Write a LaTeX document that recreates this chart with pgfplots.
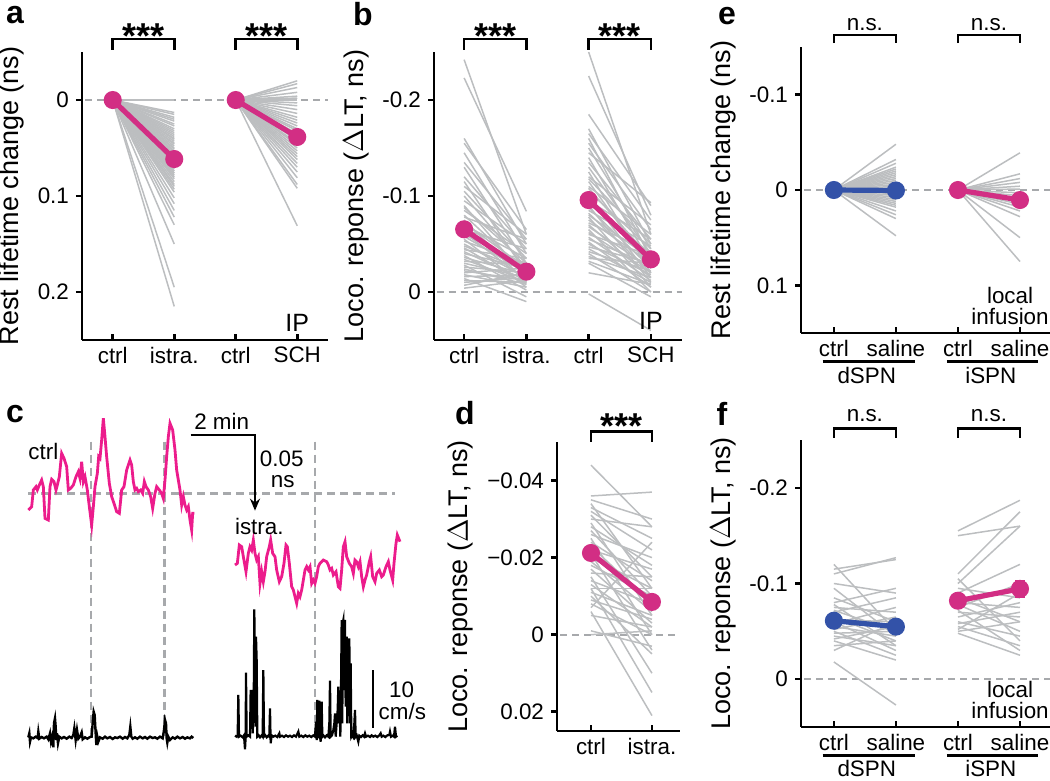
\documentclass[border=0pt]{standalone}
\usepackage{fontspec}
\setmainfont{Liberation Sans}
\usepackage{pgfplots}
\pgfplotsset{compat=1.18}
\usetikzlibrary{arrows.meta}
\definecolor{grayl}{HTML}{BCBEC0}
\definecolor{dashg}{HTML}{A7A9AC}
\definecolor{pinkm}{HTML}{D22E84}
\definecolor{pinkt}{HTML}{EC1C8C}
\definecolor{bluem}{HTML}{3352A8}
\newcommand{\tickfont}{\fontsize{11.2}{12.5}\selectfont}
\newcommand{\labfont}{\fontsize{13.5}{16}\selectfont}
\newcommand{\starfont}{\fontsize{18}{18}\selectfont\bfseries}
\newcommand{\panfont}{\fontsize{16}{16}\selectfont\bfseries}
\tikzset{
  zl/.style={dashg, line width=1pt, dash pattern=on 3.5pt off 2.5pt},
  br/.style={line width=1.3pt, black},
}
\pgfplotsset{
  pan/.style={
    scale only axis, clip=false, anchor=south west,
    axis x line*=bottom, axis y line*=left,
    axis line style={line width=1.3pt, black},
    every tick/.style={line width=1.3pt, black},
    xtick align=inside, ytick align=outside,
    major tick length=3pt,
    y dir=reverse, scaled y ticks=false,
    tick label style={font=\tickfont},
    label style={font=\labfont},
    xtick={1,2,3,4},
  },
  gl/.style={grayl, line width=0.75pt, no markers},
  ml/.style={line width=2.6pt, mark=*, mark size=3.2pt, mark options={solid}},
}
\begin{document}
\begin{tikzpicture}
\useasboundingbox (0,0) rectangle (525pt,-390.5pt);
% ---------------- panel a
\begin{axis}[pan, at={(41pt,-170pt)}, width=123pt, height=144pt,
  xmin=0.5, xmax=4.5, ymin=-0.05, ymax=0.25,
  xticklabels={ctrl,istra.,ctrl,SCH},
  ytick={0,0.1,0.2}, yticklabels={0,0.1,0.2},
  ylabel={Rest lifetime change (ns)}]
\addplot[zl] coordinates {(0.55,0) (4.5,0)};
\addplot[gl, quiver={u=1, v=\thisrow{post}}] table[x expr=1, y expr=0, row sep=\\] {
post\\ 0\\ 0\\ 0.013\\ 0.015\\ 0.018\\ 0.02\\ 0.022\\ 0.025\\ 0.027\\ 0.03\\ 0.032\\ 0.034\\ 0.036\\ 0.038\\ 0.04\\ 0.041\\ 0.043\\ 0.045\\ 0.046\\ 0.048\\ 0.05\\ 0.051\\ 0.053\\ 0.054\\ 0.056\\ 0.058\\ 0.06\\ 0.062\\ 0.064\\ 0.066\\ 0.068\\ 0.07\\ 0.072\\ 0.074\\ 0.076\\ 0.078\\ 0.08\\ 0.082\\ 0.085\\ 0.088\\ 0.09\\ 0.093\\ 0.096\\ 0.102\\ 0.108\\ 0.115\\ 0.122\\ 0.13\\ 0.15\\ 0.195\\ 0.215\\
};
\addplot[gl, quiver={u=1, v=\thisrow{post}}] table[x expr=3, y expr=0, row sep=\\] {
post\\ -0.02\\ -0.017\\ -0.013\\ -0.008\\ -0.004\\ -0.002\\ 0\\ 0.003\\ 0.006\\ 0.01\\ 0.014\\ 0.018\\ 0.021\\ 0.024\\ 0.027\\ 0.03\\ 0.032\\ 0.035\\ 0.037\\ 0.04\\ 0.042\\ 0.045\\ 0.047\\ 0.05\\ 0.053\\ 0.056\\ 0.059\\ 0.062\\ 0.066\\ 0.07\\ 0.075\\ 0.081\\ 0.088\\ 0.092\\ 0.131\\
};
\addplot[pinkm, ml] coordinates {(1,0) (2,0.0615)};
\addplot[pinkm, ml] coordinates {(3,0) (4,0.0385)};
\draw[br] (axis cs:1,-0.0521) -- (axis cs:1,-0.0635) -- (axis cs:2,-0.0635) -- (axis cs:2,-0.0521);
\draw[br] (axis cs:3,-0.0521) -- (axis cs:3,-0.0635) -- (axis cs:4,-0.0635) -- (axis cs:4,-0.0521);
\node[font=\starfont, anchor=north, inner sep=0pt] at (axis cs:1.5,-0.0802) {***};
\node[font=\starfont, anchor=north, inner sep=0pt] at (axis cs:3.5,-0.0802) {***};
\node[font=\fontsize{12.5}{14}\selectfont] at (axis cs:4,0.232) {IP};
\end{axis}
% ---------------- panel b
\begin{axis}[pan, at={(217pt,-170pt)}, width=124pt, height=144pt,
  xmin=0.516, xmax=4.5, ymin=-0.25, ymax=0.05,
  xticklabels={ctrl,istra.,ctrl,SCH},
  ytick={-0.2,-0.1,0}, yticklabels={-0.2,-0.1,0},
  ylabel={Loco. reponse ($\Delta$LT, ns)}]
\addplot[zl] coordinates {(0.56,0) (4.5,0)};
\addplot[gl, quiver={u=1, v=\thisrow{post}-\thisrow{pre}}] table[x expr=1, y=pre, row sep=\\] {
pre post\\
-0.242 -0.060\\ -0.223 -0.084\\ -0.16 -0.05\\ -0.155 -0.065\\ -0.145 -0.04\\ -0.135 -0.055\\ -0.13 -0.03\\ -0.12 -0.045\\ -0.115 -0.02\\ -0.11 -0.06\\ -0.105 -0.035\\ -0.1 -0.025\\ -0.095 -0.05\\ -0.09 -0.015\\ -0.088 -0.03\\ -0.085 -0.04\\ -0.08 -0.02\\ -0.078 -0.055\\ -0.075 -0.01\\ -0.072 -0.025\\ -0.07 -0.035\\ -0.068 -0.018\\ -0.065 -0.045\\ -0.062 -0.012\\ -0.06 -0.028\\ -0.058 -0.02\\ -0.055 -0.005\\ -0.053 -0.03\\ -0.05 -0.015\\ -0.048 -0.022\\ -0.046 -0.008\\ -0.044 -0.035\\ -0.042 -0.012\\ -0.04 -0.025\\ -0.038 -0.002\\ -0.036 -0.018\\ -0.034 -0.01\\ -0.032 -0.028\\ -0.03 -0.015\\ -0.028 0.005\\ -0.026 -0.02\\ -0.024 -0.008\\ -0.022 -0.012\\ -0.02 -0.025\\ -0.018 -0.005\\ -0.016 -0.018\\ -0.014 0.01\\ -0.012 -0.01\\ -0.01 -0.015\\ -0.007 -0.02\\ -0.004 -0.012\\
};
\addplot[gl, quiver={u=1, v=\thisrow{post}-\thisrow{pre}}] table[x expr=3, y=pre, row sep=\\] {
pre post\\
-0.25 -0.06\\ -0.225 -0.08\\ -0.185 -0.09\\ -0.17 -0.05\\ -0.165 -0.075\\ -0.16 -0.035\\ -0.155 -0.065\\ -0.15 -0.045\\ -0.145 -0.093\\ -0.14 -0.03\\ -0.135 -0.055\\ -0.13 -0.04\\ -0.125 -0.02\\ -0.12 -0.07\\ -0.118 -0.05\\ -0.115 -0.025\\ -0.11 -0.06\\ -0.108 -0.035\\ -0.105 -0.045\\ -0.1 -0.015\\ -0.098 -0.03\\ -0.095 -0.055\\ -0.092 -0.04\\ -0.09 -0.01\\ -0.088 -0.025\\ -0.085 -0.048\\ -0.082 -0.02\\ -0.08 -0.035\\ -0.078 -0.005\\ -0.075 -0.03\\ -0.072 -0.042\\ -0.07 -0.015\\ -0.068 -0.025\\ -0.065 0.0\\ -0.062 -0.02\\ -0.06 -0.038\\ -0.057 -0.012\\ -0.055 -0.028\\ -0.052 -0.005\\ -0.05 -0.018\\ -0.047 -0.03\\ -0.045 -0.01\\ -0.042 -0.022\\ -0.04 0.0\\ -0.037 -0.015\\ -0.035 -0.03\\ -0.032 -0.008\\ -0.03 0.005\\ -0.02 -0.008\\ 0.002 0.04\\
};
\addplot[pinkm, ml] coordinates {(1,-0.0653) (2,-0.0212)};
\addplot[pinkm, ml] coordinates {(3,-0.0958) (4,-0.034)};
\draw[br] (axis cs:1,-0.2521) -- (axis cs:1,-0.2635) -- (axis cs:2,-0.2635) -- (axis cs:2,-0.2521);
\draw[br] (axis cs:3,-0.2521) -- (axis cs:3,-0.2635) -- (axis cs:4,-0.2635) -- (axis cs:4,-0.2521);
\node[font=\starfont, anchor=north, inner sep=0pt] at (axis cs:1.5,-0.2802) {***};
\node[font=\starfont, anchor=north, inner sep=0pt] at (axis cs:3.5,-0.2802) {***};
\node[font=\fontsize{12.5}{14}\selectfont] at (axis cs:4,0.030) {IP};
\end{axis}
% ---------------- panel e
\begin{axis}[pan, at={(400.5pt,-166.5pt)}, width=125pt, height=143pt,
  xmin=0.47, xmax=4.5, ymin=-0.15, ymax=0.15,
  xticklabels={ctrl,saline,ctrl,saline},
  ytick={-0.1,0,0.1}, yticklabels={-0.1,0,0.1},
  ylabel={Rest lifetime change (ns)}]
\addplot[zl] coordinates {(0.52,0) (4.5,0)};
\addplot[gl, quiver={u=1, v=\thisrow{post}}] table[x expr=1, y expr=0, row sep=\\] {
post\\ -0.048\\ -0.032\\ -0.028\\ -0.024\\ -0.022\\ -0.02\\ -0.018\\ -0.016\\ -0.014\\ -0.012\\ -0.01\\ -0.008\\ -0.006\\ -0.004\\ -0.002\\ 0\\ 0.002\\ 0.004\\ 0.006\\ 0.008\\ 0.01\\ 0.012\\ 0.014\\ 0.016\\ 0.018\\ 0.022\\ 0.026\\ 0.03\\ 0.048\\
};
\addplot[gl, quiver={u=1, v=\thisrow{post}}] table[x expr=3, y expr=0, row sep=\\] {
post\\ -0.039\\ -0.017\\ -0.012\\ -0.008\\ -0.004\\ -0.001\\ 0.003\\ 0.006\\ 0.009\\ 0.012\\ 0.015\\ 0.018\\ 0.022\\ 0.028\\ 0.05\\ 0.075\\
};
\addplot[bluem, ml] coordinates {(1,0) (2,0.0005)};
\addplot[pinkm, ml] coordinates {(3,0) (4,0.0105)};
\draw[br] (axis cs:1,-0.1542) -- (axis cs:1,-0.1626) -- (axis cs:2,-0.1626) -- (axis cs:2,-0.1542);
\draw[br] (axis cs:3,-0.1542) -- (axis cs:3,-0.1626) -- (axis cs:4,-0.1626) -- (axis cs:4,-0.1542);
\node[font=\tickfont, anchor=base] at (axis cs:1.5,-0.1678) {n.s.};
\node[font=\tickfont, anchor=base] at (axis cs:3.5,-0.1678) {n.s.};
\node[font=\tickfont, align=center, inner sep=0pt] at (axis cs:3.84,0.1215) {local\\[-2pt]infusion};
\draw[br] (axis cs:0.82,0.180) -- (axis cs:2.31,0.180);
\draw[br] (axis cs:2.82,0.180) -- (axis cs:4.29,0.180);
\node[font=\tickfont] at (axis cs:1.53,0.195) {dSPN};
\node[font=\tickfont] at (axis cs:3.53,0.195) {iSPN};
\end{axis}
% ---------------- panel d
\begin{axis}[pan, at={(278.5pt,-365.5pt)}, width=61.5pt, height=144.5pt,
  xmin=0.443, xmax=2.46, ymin=-0.05, ymax=0.025,
  xtick={1,2}, xticklabels={ctrl,istra.},
  ytick={-0.04,-0.02,0,0.02}, yticklabels={−0.04,−0.02,0,0.02},
  ylabel={Loco. reponse ($\Delta$LT, ns)}]
\addplot[zl] coordinates {(0.5,0) (2.46,0)};
\addplot[gl, quiver={u=1, v=\thisrow{post}-\thisrow{pre}}] table[x expr=1, y=pre, row sep=\\] {
pre post\\
-0.044 -0.028\\ -0.036 -0.037\\ -0.035 -0.03\\ -0.034 -0.012\\ -0.033 -0.025\\ -0.032 -0.022\\ -0.031 -0.015\\ -0.030 -0.028\\ -0.029 -0.005\\ -0.028 -0.018\\ -0.027 -0.010\\ -0.026 -0.02\\ -0.025 0.0\\ -0.024 -0.014\\ -0.023 -0.008\\ -0.022 -0.017\\ -0.021 0.004\\ -0.02 -0.012\\ -0.019 -0.006\\ -0.018 -0.01\\ -0.017 -0.003\\ -0.016 -0.015\\ -0.015 0.01\\ -0.014 -0.008\\ -0.013 -0.002\\ -0.012 -0.012\\ -0.012 0.015\\ -0.011 -0.005\\ -0.010 0.005\\ -0.009 -0.004\\ -0.008 0.0\\ -0.007 -0.024\\ -0.006 0.021\\ -0.005 -0.002\\ -0.001 0.003\\ 0.0 -0.001\\
};
\addplot[pinkm, ml] coordinates {(1,-0.0212) (2,-0.0085)};
\draw[br] (axis cs:1,-0.0501) -- (axis cs:1,-0.05267) -- (axis cs:2,-0.05267) -- (axis cs:2,-0.0501);
\node[font=\starfont, anchor=north, inner sep=0pt] at (axis cs:1.5,-0.0575) {***};
\end{axis}
% ---------------- panel f
\begin{axis}[pan, at={(400.5pt,-363.5pt)}, width=125pt, height=143.5pt,
  xmin=0.47, xmax=4.5, ymin=-0.25, ymax=0.05,
  xticklabels={ctrl,saline,ctrl,saline},
  ytick={-0.2,-0.1,0}, yticklabels={-0.2,-0.1,0},
  ylabel={Loco. reponse ($\Delta$LT, ns)}]
\addplot[zl] coordinates {(0.52,0) (4.5,0)};
\addplot[gl, quiver={u=1, v=\thisrow{post}-\thisrow{pre}}] table[x expr=1, y=pre, row sep=\\] {
pre post\\
-0.12 -0.05\\ -0.115 -0.125\\ -0.11 -0.127\\ -0.1 -0.09\\ -0.095 -0.045\\ -0.085 -0.06\\ -0.08 -0.095\\ -0.078 -0.035\\ -0.075 -0.07\\ -0.072 -0.05\\ -0.07 -0.085\\ -0.065 -0.04\\ -0.062 -0.06\\ -0.06 -0.03\\ -0.058 -0.075\\ -0.055 -0.045\\ -0.052 -0.065\\ -0.05 -0.025\\ -0.048 -0.05\\ -0.045 -0.035\\ -0.042 -0.055\\ -0.04 -0.02\\ -0.035 -0.04\\ -0.03 -0.06\\ -0.018 0.027\\
};
\addplot[gl, quiver={u=1, v=\thisrow{post}-\thisrow{pre}}] table[x expr=3, y=pre, row sep=\\] {
pre post\\
-0.155 -0.187\\ -0.15 -0.16\\ -0.11 -0.175\\ -0.105 -0.04\\ -0.1 -0.16\\ -0.095 -0.085\\ -0.09 -0.12\\ -0.085 -0.06\\ -0.08 -0.075\\ -0.078 -0.05\\ -0.075 -0.1\\ -0.072 -0.03\\ -0.07 -0.065\\ -0.065 -0.08\\ -0.06 -0.045\\ -0.058 -0.07\\ -0.055 -0.035\\ -0.052 -0.09\\ -0.05 -0.06\\ -0.048 -0.025\\
};
\addplot[bluem, ml] coordinates {(1,-0.0611) (2,-0.0549)};
\addplot[pinkm, line width=1.5pt, mark=none, error bars/.cd, y dir=both, y explicit,
  error bar style={line width=1.5pt, pinkm}, error mark options={rotate=90, mark size=2.5pt, line width=1.5pt, pinkm}]
  coordinates {(4,-0.0944) +- (0,0.008)};
\addplot[pinkm, ml] coordinates {(3,-0.082) (4,-0.0944)};
\draw[br] (axis cs:1,-0.2524) -- (axis cs:1,-0.2622) -- (axis cs:2,-0.2622) -- (axis cs:2,-0.2524);
\draw[br] (axis cs:3,-0.2524) -- (axis cs:3,-0.2622) -- (axis cs:4,-0.2622) -- (axis cs:4,-0.2524);
\node[font=\tickfont, anchor=base] at (axis cs:1.5,-0.2691) {n.s.};
\node[font=\tickfont, anchor=base] at (axis cs:3.5,-0.2691) {n.s.};
\node[font=\tickfont, align=center, inner sep=0pt] at (axis cs:3.84,0.022) {local\\[-2pt]infusion};
\draw[br] (axis cs:0.82,0.0797) -- (axis cs:2.31,0.0797);
\draw[br] (axis cs:2.82,0.0797) -- (axis cs:4.29,0.0797);
\node[font=\tickfont] at (axis cs:1.53,0.0933) {dSPN};
\node[font=\tickfont] at (axis cs:3.53,0.0933) {iSPN};
\end{axis}
% ---------------- panel c (traces)
\begin{axis}[at={(0pt,-390.5pt)}, anchor=south west, scale only axis,
  width=210pt, height=195.5pt, xmin=0, xmax=1260, ymin=0, ymax=1173,
  y dir=reverse, hide axis, clip=false]
\addplot[zl, line width=1.2pt, dash pattern=on 4pt off 2.5pt] coordinates {(85,310) (1185,310)};
\addplot[zl, line width=1.2pt, dash pattern=on 4pt off 2.5pt] coordinates {(273,155) (273,1040)};
\addplot[zl, line width=1.2pt, dash pattern=on 4pt off 2.5pt] coordinates {(493,155) (493,1040)};
\addplot[zl, line width=1.2pt, dash pattern=on 4pt off 2.5pt] coordinates {(945,155) (945,1040)};
\addplot[pinkt, line width=1.4pt, no markers] coordinates {
(85,360)(95,350)(100,300)(108,290)(112,300)(118,285)(125,270)(130,290)(135,385)(145,390)(150,290)(155,268)(162,275)(168,300)(172,285)(178,260)(185,190)(192,205)(200,230)(205,300)(212,295)(220,285)(228,260)(235,245)(240,265)(245,215)(250,275)(255,260)(262,300)(268,350)(275,405)(280,350)(285,290)(292,250)(296,200)(300,205)(305,150)(310,85)(315,140)(320,200)(328,280)(335,320)(342,340)(350,365)(358,370)(365,300)(372,290)(380,240)(390,210)(395,225)(400,275)(405,300)(410,295)(415,305)(422,300)(428,310)(433,275)(438,290)(445,300)(452,320)(458,355)(465,310)(470,290)(478,300)(485,310)(490,325)(495,270)(500,200)(505,140)(510,100)(518,120)(525,180)(530,240)(535,270)(540,300)(545,345)(550,320)(555,345)(560,360)(565,350)(570,390)(575,420)(578,370)(583,370)};
\addplot[pinkt, line width=1.4pt, no markers] coordinates {
(705,525)(712,520)(718,465)(725,470)(730,500)(738,545)(745,490)(750,470)(755,480)(760,450)(765,490)(770,510)(775,500)(780,580)(785,545)(790,575)(795,545)(800,500)(808,470)(812,450)(818,490)(825,500)(830,540)(838,575)(845,560)(852,520)(858,465)(862,470)(868,520)(875,590)(880,600)(885,620)(890,640)(895,610)(900,620)(905,600)(910,570)(915,540)(920,530)(925,540)(930,530)(935,580)(940,570)(945,580)(950,560)(955,530)(960,520)(970,510)(980,515)(985,525)(990,540)(995,535)(1000,555)(1008,545)(1015,590)(1020,595)(1025,540)(1030,470)(1035,455)(1040,500)(1048,520)(1055,530)(1060,550)(1065,510)(1070,515)(1075,530)(1080,515)(1085,560)(1090,590)(1095,570)(1100,555)(1108,515)(1112,500)(1118,560)(1125,575)(1130,550)(1138,540)(1145,560)(1150,555)(1158,530)(1165,515)(1170,540)(1178,570)(1182,520)(1188,460)(1192,435)(1200,455)};
\addplot[black, line width=1.2pt, no markers] coordinates {
(85,1042)(88,1030)(90,1055)(93,1042)(100,1045)(107,1040)(113,1044)(115,1025)(118,1046)(125,1041)(132,1045)(140,1040)(145,1048)(150,1030)(153,1055)(157,1038)(160,1072)(162,1000)(165,985)(167,1010)(169,1050)(171,1030)(174,1060)(178,1040)(185,1045)(192,1041)(200,1046)(208,1040)(215,1044)(220,1035)(223,1015)(227,1050)(231,1020)(235,1046)(240,1040)(245,1027)(248,1048)(255,1042)(262,1046)(270,1041)(275,1040)(278,1000)(281,965)(284,975)(287,1030)(289,1065)(292,1040)(295,1055)(300,1042)(308,1046)(315,1040)(322,1045)(330,1041)(338,1047)(345,1042)(352,1044)(360,1040)(368,1046)(375,1041)(382,1045)(388,1035)(391,1010)(394,1040)(398,1046)(405,1042)(412,1046)(420,1040)(428,1045)(435,1041)(442,1046)(450,1040)(458,1044)(465,1042)(472,1046)(480,1040)(488,1045)(492,1020)(495,990)(498,1000)(500,1045)(502,1058)(505,1040)(510,1050)(518,1042)(525,1046)(532,1040)(540,1045)(548,1041)(555,1046)(562,1042)(570,1045)(575,1040)(580,1044)};
\addplot[black, line width=1.1pt, no markers] coordinates {
(705,1037)(710,1040)(713,1036)(715,915)(717,1040)(722,1037)(728,1042)(732,1036)(735,1078)(737,1040)(738,848)(740,1040)(745,1036)(750,1040)(752,900)(754,1000)(756,900)(758,1030)(761,960)(763,658)(765,900)(767,1010)(768,740)(770,810)(772,1040)(776,1036)(780,1042)(785,1036)(788,1040)(790,840)(792,1040)(796,1036)(800,1042)(805,1037)(808,1040)(810,955)(812,1060)(815,1036)(820,1040)(826,1037)(832,1041)(838,1030)(840,1040)(846,1037)(852,1041)(858,1036)(864,1040)(870,1037)(876,1041)(882,1036)(888,1040)(895,1025)(898,1040)(904,1037)(910,1041)(916,1036)(922,1040)(928,1037)(934,1041)(940,1036)(945,1040)(948,995)(950,1050)(952,930)(954,1045)(956,1000)(958,932)(960,1040)(962,1055)(965,935)(967,1040)(970,1036)(975,1042)(980,1036)(985,1040)(988,1000)(990,872)(992,1040)(996,1036)(1000,1020)(1003,1000)(1005,970)(1007,1040)(1010,1000)(1013,960)(1015,890)(1017,1000)(1019,960)(1021,1040)(1023,900)(1025,690)(1027,1000)(1028,700)(1030,690)(1032,900)(1033,720)(1035,690)(1037,950)(1038,760)(1040,740)(1042,1000)(1044,780)(1046,900)(1048,745)(1050,1000)(1052,820)(1054,1040)(1056,1036)(1060,1042)(1063,1000)(1065,960)(1067,1040)(1070,1036)(1075,1055)(1078,1037)(1083,1041)(1088,1036)(1092,1040)(1095,1030)(1098,1040)(1104,1037)(1110,1041)(1115,1036)(1120,1040)(1126,1037)(1132,1041)(1138,1036)(1142,1030)(1145,1040)(1150,1037)(1156,1041)(1162,1036)(1168,1035)(1170,1025)(1173,1040)(1178,1037)(1182,1040)(1185,1010)(1188,1040)(1192,1037)};
% scale bars
\addplot[black, line width=1pt, no markers, -{Stealth[length=6pt,width=5pt]}] coordinates {(572,135) (765,135) (765,362)};
\addplot[black, line width=1.1pt, no markers] coordinates {(1120,840) (1120,1015)};
\node[font=\tickfont] at (axis cs:665,95) {2 min};
\node[font=\tickfont] at (axis cs:845,205) {0.05};
\node[font=\tickfont] at (axis cs:848,275) {ns};
\node[font=\tickfont] at (axis cs:130,185) {ctrl};
\node[font=\tickfont] at (axis cs:778,410) {istra.};
\node[font=\tickfont] at (axis cs:1205,898) {10};
\node[font=\tickfont, anchor=west, inner sep=0pt] at (axis cs:1135,965) {cm/s};
\end{axis}
% panel letters
\node[font=\panfont] at (7.5pt,-7.5pt) {a};
\node[font=\panfont] at (181.5pt,-7pt) {b};
\node[font=\panfont] at (363.5pt,-8pt) {e};
\node[font=\panfont] at (7.5pt,-207pt) {c};
\node[font=\panfont] at (232.5pt,-206.5pt) {d};
\node[font=\panfont] at (361pt,-207pt) {f};
\end{tikzpicture}
\end{document}
